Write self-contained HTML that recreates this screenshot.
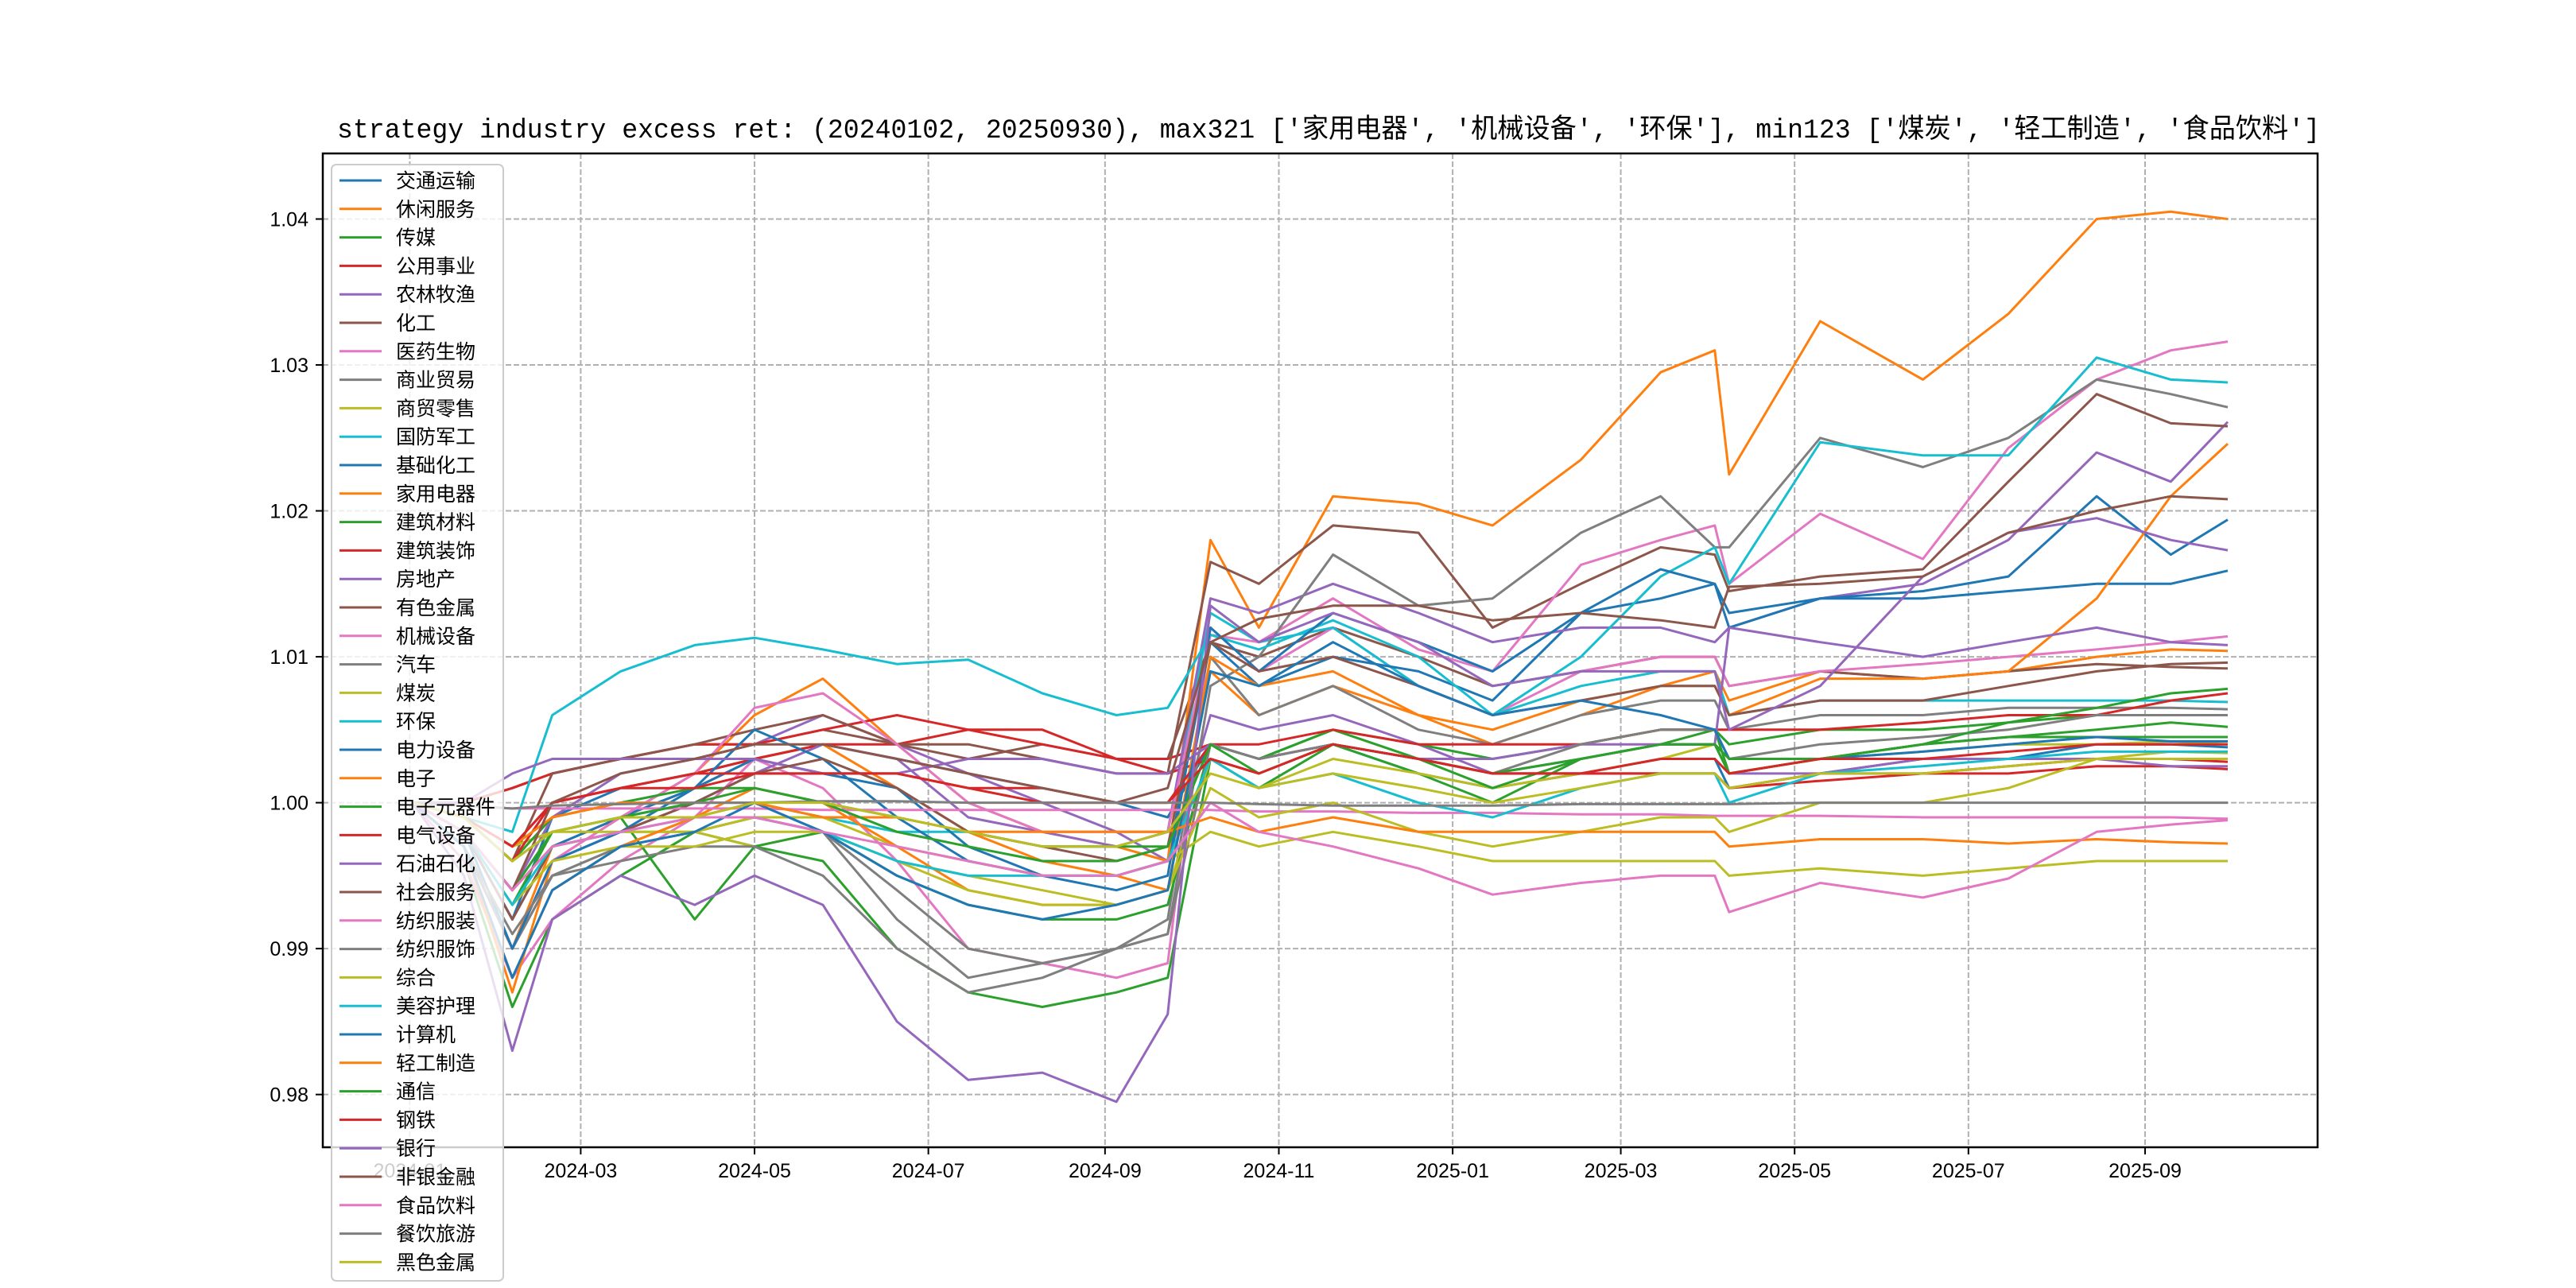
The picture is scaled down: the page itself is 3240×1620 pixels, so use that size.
<!DOCTYPE html>
<html><head><meta charset="utf-8"><style>
html,body{margin:0;padding:0;background:#fff;}
svg{display:block;font-family:"Liberation Sans","Noto Sans CJK SC",sans-serif;}
</style></head><body>
<svg id="chart" width="3240" height="1620" viewBox="0 0 3240 1620" xmlns="http://www.w3.org/2000/svg">
<rect x="0" y="0" width="3240" height="1620" fill="#fff"/>
<text x="424" y="173" font-size="34" textLength="2494" lengthAdjust="spacingAndGlyphs" font-family="'Liberation Mono','Noto Sans CJK SC',monospace">strategy industry excess ret: (20240102, 20250930), max321 ['家用电器', '机械设备', '环保'], min123 ['煤炭', '轻工制造', '食品饮料']</text>
<g id="grid"></g><g id="series"></g><g id="axes"></g><g id="legend"></g>
</svg>
<script>
const dates = ["2024-01-02","2024-01-20","2024-02-06","2024-02-20","2024-03-15","2024-04-10","2024-05-01","2024-05-25","2024-06-20","2024-07-15","2024-08-10","2024-09-05","2024-09-23","2024-10-08","2024-10-25","2024-11-20","2024-12-20","2025-01-15","2025-02-15","2025-03-15","2025-04-03","2025-04-08","2025-05-10","2025-06-15","2025-07-15","2025-08-15","2025-09-10","2025-09-30"];
const names = ["交通运输","休闲服务","传媒","公用事业","农林牧渔","化工","医药生物","商业贸易","商贸零售","国防军工","基础化工","家用电器","建筑材料","建筑装饰","房地产","有色金属","机械设备","汽车","煤炭","环保","电力设备","电子","电子元器件","电气设备","石油石化","社会服务","纺织服装","纺织服饰","综合","美容护理","计算机","轻工制造","通信","钢铁","银行","非银金融","食品饮料","餐饮旅游","黑色金属"];
const s00 = [1,0.998,0.992,0.999,1.001,1.002,1.003,1.004,1.003,1.002,1.001,1.000,0.999,1.004,1.003,1.004,1.002,1.001,1.002,1.003,1.003,1.001,1.002,1.003,1.003,1.004,1.004,1.0038];
const s01 = [1,0.997,0.99,0.997,0.999,1.001,1.003,1.004,1.001,0.998,0.996,0.995,0.994,1.009,1.006,1.008,1.006,1.004,1.006,1.008,1.009,1.007,1.009,1.0085,1.009,1.01,1.0105,1.0104];
const s02 = [1,0.996,0.986,0.992,0.995,0.998,0.997,0.996,0.99,0.987,0.986,0.987,0.988,1.003,1.001,1.004,1.002,1.000,1.003,1.004,1.005,1.002,1.003,1.004,1.0045,1.005,1.0055,1.0052];
const s03 = [1,0.999,0.997,1.0,1.001,1.002,1.003,1.004,1.004,1.005,1.005,1.003,1.002,1.003,1.002,1.004,1.003,1.002,1.002,1.002,1.002,1.001,1.0015,1.002,1.002,1.0025,1.0025,1.0023];
const s04 = [1,0.998,0.994,0.999,1.002,1.003,1.004,1.006,1.004,1.002,1.000,0.998,0.996,1.006,1.005,1.006,1.004,1.002,1.003,1.004,1.004,1.002,1.002,1.003,1.003,1.003,1.0025,1.0025];
const s05 = [1,1.0,1.001,1.002,1.003,1.004,1.004,1.005,1.004,1.003,1.004,1.003,1.003,1.011,1.010,1.012,1.010,1.008,1.009,1.010,1.010,1.008,1.009,1.0085,1.009,1.0095,1.0093,1.0092];
const s06 = [1,0.996,0.988,0.992,0.996,0.999,1.003,1.001,0.996,0.990,0.989,0.988,0.989,1.012,1.009,1.012,1.008,1.006,1.009,1.010,1.010,1.008,1.009,1.0095,1.010,1.0105,1.011,1.0114];
const s07 = [1,0.997,0.99,0.995,0.997,0.998,0.999,0.998,0.992,0.988,0.989,0.99,0.992,1.010,1.006,1.008,1.005,1.004,1.006,1.007,1.007,1.005,1.006,1.006,1.0065,1.0065,1.0065,1.0064];
const s08 = [1,0.998,0.994,0.997,0.998,0.998,0.997,0.998,0.996,0.995,0.994,0.993,0.994,1.003,1.001,1.003,1.002,1.001,1.002,1.003,1.004,1.002,1.003,1.0035,1.004,1.004,1.0042,1.004];
const s09 = [1,0.999,0.996,0.998,0.999,1.000,1.000,0.999,0.998,0.998,0.997,0.997,0.998,1.013,1.011,1.012,1.008,1.006,1.008,1.009,1.009,1.006,1.007,1.007,1.007,1.007,1.007,1.0069];
const s10 = [1,0.998,0.992,0.997,0.999,1.001,1.003,1.002,1.001,0.997,0.995,0.995,0.996,1.011,1.008,1.010,1.009,1.007,1.013,1.014,1.015,1.013,1.014,1.014,1.0145,1.015,1.015,1.0159];
const s11 = [1,0.997,0.987,0.996,0.999,1.002,1.006,1.0085,1.004,1.000,0.998,0.997,0.996,1.018,1.012,1.021,1.0205,1.019,1.0235,1.0295,1.031,1.0225,1.033,1.029,1.0335,1.040,1.0405,1.040];
const s12 = [1,0.998,0.993,0.998,0.999,0.992,0.997,0.998,0.995,0.993,0.992,0.992,0.993,1.004,1.003,1.005,1.003,1.001,1.003,1.004,1.004,1.002,1.003,1.004,1.0045,1.0045,1.0045,1.0045];
const s13 = [1,1.0,1.001,1.002,1.003,1.004,1.004,1.005,1.006,1.005,1.004,1.003,1.003,1.004,1.003,1.004,1.003,1.002,1.002,1.002,1.002,1.001,1.002,1.002,1.0025,1.003,1.003,1.0028];
const s14 = [1,0.997,0.99,0.996,0.998,1.000,1.002,1.004,1.003,0.999,0.998,0.997,0.998,1.014,1.013,1.015,1.013,1.011,1.012,1.012,1.011,1.012,1.014,1.015,1.018,1.024,1.022,1.0261];
const s15 = [1,0.999,0.996,1.002,1.003,1.004,1.005,1.006,1.004,1.004,1.003,1.002,1.002,1.0165,1.015,1.019,1.0185,1.012,1.015,1.0175,1.017,1.0145,1.0155,1.016,1.022,1.028,1.026,1.0258];
const s16 = [1,0.997,0.99,0.996,0.999,1.002,1.0065,1.0075,1.004,1.000,0.998,0.998,0.998,1.0115,1.011,1.014,1.0105,1.009,1.0163,1.018,1.019,1.015,1.0198,1.0167,1.0243,1.029,1.031,1.0316];
const s17 = [1,0.997,0.99,0.995,0.997,0.999,1.000,0.998,0.994,0.99,0.989,0.99,0.991,1.008,1.010,1.017,1.0135,1.014,1.0185,1.021,1.0175,1.0175,1.025,1.023,1.025,1.029,1.028,1.0271];
const s18 = [1,0.999,0.997,0.998,0.998,0.998,0.999,0.999,0.997,0.996,0.995,0.995,0.996,0.998,0.997,0.998,0.997,0.996,0.996,0.996,0.996,0.995,0.9955,0.995,0.9955,0.996,0.996,0.996];
const s19 = [1,0.999,0.998,1.006,1.009,1.0108,1.0113,1.0105,1.0095,1.0098,1.0075,1.006,1.0065,1.0115,1.0105,1.0125,1.010,1.006,1.010,1.0155,1.0175,1.015,1.0247,1.0238,1.0238,1.0305,1.029,1.0288];
const s20 = [1,0.998,0.99,0.996,0.998,1.001,1.005,1.003,0.999,0.996,0.995,0.994,0.995,1.012,1.009,1.013,1.011,1.009,1.013,1.016,1.015,1.012,1.014,1.0145,1.0155,1.021,1.017,1.0194];
const s21 = [1,0.997,0.988,0.994,0.997,0.999,1.001,1.000,0.997,0.994,0.993,0.993,0.994,1.010,1.008,1.009,1.006,1.005,1.007,1.008,1.008,1.006,1.0085,1.0085,1.009,1.014,1.021,1.0246];
const s22 = [1,0.999,0.996,0.999,1.000,1.001,1.001,1.000,0.999,0.998,0.997,0.997,0.997,1.004,1.003,1.005,1.004,1.003,1.004,1.005,1.005,1.004,1.005,1.005,1.0055,1.006,1.006,1.006];
const s23 = [1,0.999,0.996,1.0,1.001,1.002,1.002,1.002,1.002,1.001,1.001,1.000,1.000,1.004,1.004,1.005,1.004,1.004,1.004,1.005,1.005,1.005,1.005,1.0055,1.006,1.006,1.007,1.0075];
const s24 = [1,1.0,1.002,1.003,1.003,1.003,1.003,1.002,1.002,1.003,1.003,1.002,1.002,1.004,1.003,1.004,1.003,1.003,1.004,1.004,1.004,1.012,1.011,1.010,1.011,1.012,1.011,1.0108];
const s25 = [1,0.998,0.992,0.997,0.998,1.000,1.002,1.003,1.001,0.998,0.997,0.996,0.997,1.011,1.009,1.010,1.008,1.006,1.007,1.008,1.008,1.006,1.007,1.007,1.008,1.009,1.0095,1.0096];
const s26 = [1,0.9998,0.9996,0.9996,0.9996,0.9996,0.9996,0.9995,0.9995,0.9995,0.9995,0.9995,0.9995,0.9995,0.9994,0.9994,0.9993,0.9993,0.9992,0.9992,0.9991,0.9991,0.9991,0.999,0.999,0.999,0.999,0.9989];
const s27 = [1,0.997,0.991,0.995,0.996,0.997,0.997,0.995,0.990,0.987,0.988,0.990,0.991,1.004,1.003,1.004,1.003,1.002,1.004,1.005,1.005,1.003,1.004,1.0045,1.005,1.006,1.006,1.006];
const s28 = [1,0.998,0.993,0.996,0.997,0.997,0.998,0.998,0.996,0.994,0.993,0.993,0.994,1.001,0.999,1.000,0.998,0.997,0.998,0.999,0.999,0.998,1.000,1.000,1.001,1.003,1.0035,1.0034];
const s29 = [1,0.998,0.993,0.997,0.998,0.999,0.999,0.998,0.996,0.995,0.995,0.995,0.996,1.003,1.001,1.002,1.000,0.999,1.001,1.002,1.002,1.000,1.002,1.0025,1.003,1.0035,1.0035,1.0035];
const s30 = [1,0.997,0.988,0.994,0.997,0.998,1.000,0.998,0.995,0.993,0.992,0.993,0.994,1.009,1.008,1.011,1.008,1.006,1.007,1.006,1.005,1.003,1.003,1.0035,1.004,1.0045,1.0042,1.0042];
const s31 = [1,0.999,0.997,0.999,1.000,1.000,1.000,0.999,0.999,0.998,0.998,0.998,0.998,0.999,0.998,0.999,0.998,0.998,0.998,0.998,0.998,0.997,0.9975,0.9975,0.9972,0.9975,0.9973,0.9972];
const s32 = [1,0.998,0.994,0.998,0.999,1.000,1.001,1.000,0.998,0.997,0.996,0.996,0.997,1.004,1.002,1.004,1.003,1.002,1.003,1.004,1.004,1.003,1.003,1.004,1.0055,1.0065,1.0075,1.0078];
const s33 = [1,0.999,0.997,1.0,1.001,1.001,1.002,1.002,1.002,1.001,1.000,1.000,1.000,1.003,1.002,1.004,1.003,1.002,1.002,1.003,1.003,1.002,1.003,1.003,1.0035,1.004,1.004,1.004];
const s34 = [1,0.995,0.983,0.992,0.995,0.993,0.995,0.993,0.985,0.981,0.9815,0.9795,0.9855,1.0135,1.011,1.013,1.011,1.008,1.009,1.009,1.009,1.005,1.008,1.0155,1.0185,1.0195,1.018,1.0173];
const s35 = [1,0.998,0.994,1.0,1.002,1.003,1.004,1.004,1.003,1.002,1.001,1.000,1.001,1.011,1.0126,1.0135,1.0135,1.0125,1.013,1.0125,1.012,1.0148,1.015,1.0155,1.0185,1.020,1.021,1.0208];
const s36 = [1,0.998,0.994,0.997,0.998,0.999,0.999,0.998,0.997,0.996,0.995,0.995,0.996,1.000,0.998,0.997,0.9955,0.9937,0.9945,0.995,0.995,0.9925,0.9945,0.9935,0.9948,0.998,0.9985,0.9988];
const s37 = [1,0.9998,0.9996,0.9998,0.9999,1.0,1.0,1.0001,1.0001,1.0,1.0,1.0,1.0,1.0,0.9999,0.9998,0.9998,0.9998,0.9999,0.9999,0.9999,0.9999,1.0,1.0,1.0,1.0,1.0,1.0];
const s38 = [1,0.999,0.996,0.998,0.999,0.999,1.000,1.000,0.999,0.998,0.997,0.997,0.998,1.002,1.001,1.002,1.001,1.000,1.001,1.002,1.002,1.001,1.002,1.002,1.0025,1.003,1.003,1.003];
const seriesValues = [s00,s01,s02,s03,s04,s05,s06,s07,s08,s09,s10,s11,s12,s13,s14,s15,s16,s17,s18,s19,s20,s21,s22,s23,s24,s25,s26,s27,s28,s29,s30,s31,s32,s33,s34,s35,s36,s37,s38];
const yTicks = [0.98,0.99,1.00,1.01,1.02,1.03,1.04];
const yTickLabels = ["0.98","0.99","1.00","1.01","1.02","1.03","1.04"];
const xTicks = ["2024-01-01","2024-03-01","2024-05-01","2024-07-01","2024-09-01","2024-11-01","2025-01-01","2025-03-01","2025-05-01","2025-07-01","2025-09-01"];
const xTickLabels = ["2024-01","2024-03","2024-05","2024-07","2024-09","2024-11","2025-01","2025-03","2025-05","2025-07","2025-09"];

const colors = ["#1f77b4","#ff7f0e","#2ca02c","#d62728","#9467bd","#8c564b","#e377c2","#7f7f7f","#bcbd22","#17becf"];
const NS = "http://www.w3.org/2000/svg";
const L = 406, R = 2915, T = 193, B = 1443;
const refDay = Date.UTC(2024,2,1);
function days(s){const p=s.split("-");return (Date.UTC(+p[0],+p[1]-1,+p[2])-refDay)/86400000;}
function xs(s){return 730.4 + days(s)*3.584;}
function ys(v){return 1009.6 - (v-1)*18353;}
function mk(tag, attrs, parent){const e=document.createElementNS(NS,tag);for(const k in attrs)e.setAttribute(k,attrs[k]);parent.appendChild(e);return e;}

const grid = document.getElementById("grid");
const axes = document.getElementById("axes");
yTicks.forEach((v,i)=>{
  const y = ys(v);
  const g = mk("line",{x1:L,x2:R,y1:y,y2:y,stroke:"#b0b0b0","stroke-width":2,"stroke-dasharray":"7,3"},grid);
  
  
  const t = mk("line",{x1:L-9,x2:L,y1:y,y2:y,stroke:"#000","stroke-width":2},axes);
  
  
  const tx = mk("text",{x:L-18,y:y+9,"font-size":25,"text-anchor":"end",fill:"#000"},axes);
  tx.textContent = yTickLabels[i];
  
  
});
xTicks.forEach((d,i)=>{
  const x = xs(d);
  const g = mk("line",{x1:x,x2:x,y1:T,y2:B,stroke:"#b0b0b0","stroke-width":2,"stroke-dasharray":"7,3"},grid);
  
  
  const t = mk("line",{x1:x,x2:x,y1:B,y2:B+9,stroke:"#000","stroke-width":2},axes);
  
  
  const tx = mk("text",{x:x,y:B+38,"font-size":25,"text-anchor":"middle",fill:"#000"},axes);
  tx.textContent = xTickLabels[i];
  
  
});
const frame = mk("rect",{x:L,y:T,width:R-L,height:B-T,fill:"none",stroke:"#000","stroke-width":2.5},axes);



const sg = document.getElementById("series");
seriesValues.forEach((vals,i)=>{
  const pts = vals.map((v,j)=>xs(dates[j]).toFixed(1)+","+ys(v).toFixed(1)).join(" ");
  const pl = mk("polyline",{points:pts,fill:"none",stroke:colors[i%10],"stroke-width":3,"stroke-linejoin":"round"},sg);
  
  
});

const lg = document.getElementById("legend");
const step = 35.8, top0 = 227;
const box = mk("rect",{x:417,y:207,width:216,height:1404,rx:6,fill:"#fff","fill-opacity":0.8,stroke:"#cccccc","stroke-width":2},lg);


names.forEach((n,i)=>{
  const y = top0 + i*step;
  const h = mk("line",{x1:427,x2:480,y1:y,y2:y,stroke:colors[i%10],"stroke-width":3},lg);
  
  
  const t = mk("text",{x:498,y:y+9,"font-size":25,fill:"#000"},lg);
  t.textContent = n;
  
  
});
</script>
</body></html>
